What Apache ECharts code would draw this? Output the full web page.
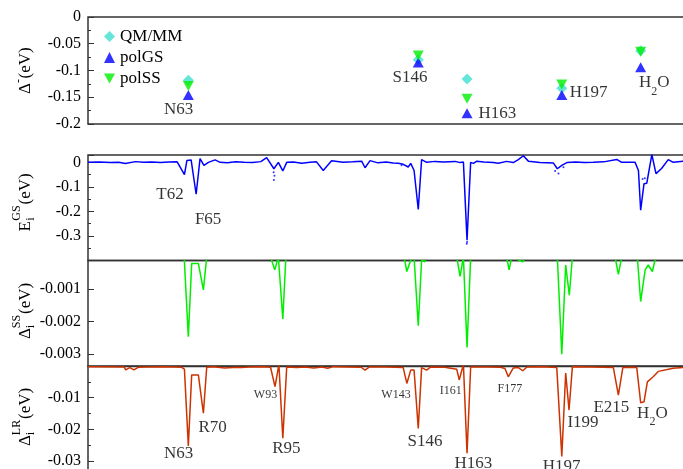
<!DOCTYPE html>
<html><head><meta charset="utf-8">
<script src="https://cdn.jsdelivr.net/npm/echarts@6/dist/echarts.min.js"></script>
<style>html,body{margin:0;padding:0;background:#fff}#c{width:683px;height:469px}</style>
</head><body><div id="c"></div>
<script>
const FONT = '"Liberation Serif","Times New Roman",serif';

// ---- Panel 1: energy shifts per site ----
const sites = ['N63', 'S146', 'H163', 'H197', 'H2O'];
const siteX = [63, 145.5, 163, 197, 225.3];
const qmmm  = [-0.118, -0.080, -0.116, -0.133, -0.063];
const polGS = [-0.146, -0.085, -0.180, -0.146, -0.094];
const polSS = [-0.129, -0.072, -0.153, -0.126, -0.065];
const yTicks1 = [0, -0.05, -0.1, -0.15, -0.2];

// ---- Panel 2: E_i^GS (residue index, eV) ----
const gsLine = [[27,0],[31,0.001],[35,-0.001],[38,0],[40.4,-0.005],[44,0.003],[47,0],[50,0.001],[53,-0.001],[56,0.001],[59,0.002],[61.6,-0.05],[62.5,0.008],[64,0.01],[65.8,-0.13],[67.2,0.015],[68.6,-0.012],[70.2,0],[72.6,0.01],[74.4,0],[77,-0.002],[80,0.002],[83,0],[86,-0.001],[89,0.003],[91.1,0.019],[93.7,-0.026],[95.3,0],[96.9,-0.035],[98.3,0],[100.7,0.001],[103.7,-0.004],[106.7,0],[109,0.002],[111.4,-0.033],[114.4,0.007],[118.5,0],[122,0.002],[125.2,0.005],[126.4,-0.022],[128.2,0.007],[131,-0.002],[134,0.001],[136.5,-0.003],[138.3,-0.004],[140.1,-0.008],[141.9,-0.019],[142.8,-0.004],[144,-0.033],[145.5,-0.192],[146.7,0.011],[148.5,0],[151.5,0.004],[154.5,0.001],[158.7,0.004],[160.5,-0.001],[161.7,0.001],[163,-0.317],[164.3,0],[165.3,-0.004],[166.5,0.005],[169,0.001],[172.4,-0.001],[174.2,-0.004],[177.2,0.004],[179.6,-0.001],[181.4,0.011],[183.2,0.027],[185,0.005],[189.2,-0.001],[194,-0.003],[195.4,-0.026],[197,-0.012],[198.8,-0.001],[202,0.001],[205,-0.001],[208.3,0],[212,0.002],[216.7,0.012],[218.5,0],[223.3,0],[224.5,-0.033],[225.3,-0.195],[226.5,-0.087],[227.5,-0.085],[229.3,0.032],[230.8,-0.046],[232.8,-0.025],[235.2,0.011],[237,0],[240.5,0.005],[243,0.002]];
const gsDots = [[93.6,-0.04],[93.9,-0.055],[93.7,-0.072],[163,-0.325],[162.9,-0.332],[194.6,-0.035],[195.8,-0.045],[197.6,-0.02],[139.5,-0.012],[226,-0.068],[226.8,-0.065]];

// ---- Panel 3: Delta_i^SS ----
const ssLine = [[27,0],[61.5,0],[63,-0.00247],[64.2,-0.0002],[66.6,-0.0002],[68.4,-0.00102],[69.6,0],[92.5,0],[94,-0.0004],[95.3,0],[96.9,-0.00192],[98,0],[140.4,0],[141.4,-0.00045],[142.8,-0.0001],[144,0],[145.5,-0.00213],[146.7,-0.0001],[147.9,-0.00015],[148.5,0],[159.3,0],[160.5,-0.0006],[161.7,0],[163,-0.0028],[164.3,0],[177.2,0],[178.1,-0.0004],[179,0],[183,-0.00015],[184,0],[195.4,0],[197,-0.00301],[198.4,-0.00025],[199.7,-0.00118],[200.8,0],[216.1,0],[217.3,-0.00054],[218.5,0],[224.1,0],[225.3,-0.00138],[226.9,-0.0004],[228,-0.00025],[229.5,-0.00045],[230.7,0],[243,0]];
const yTicks3 = [-0.003, -0.002, -0.001];
const yMinor3 = [-0.0025, -0.0015, -0.0005];

// ---- Panel 4: Delta_i^LR ----
const lrLine = [[27,-0.0002],[40,-0.0003],[40.5,-0.0012],[42,-0.0005],[43.5,-0.0012],[45,-0.0004],[48,-0.0003],[55,-0.0002],[60.6,-0.0004],[61.6,-0.001],[63,-0.0252],[64.2,-0.0028],[66.6,-0.0028],[68.4,-0.0149],[69.6,-0.0004],[72,-0.0002],[76,-0.0006],[80.4,-0.0004],[82,-0.0005],[85,-0.0003],[90,-0.0002],[92.5,-0.0004],[94.1,-0.0065],[95.5,0.0005],[96.9,-0.0228],[98.3,-0.0003],[102,-0.0005],[105,-0.0003],[108,-0.0006],[111,-0.0003],[113,-0.0007],[115,-0.0002],[120,-0.0003],[125,-0.0004],[126.4,-0.0013],[128,-0.0003],[134,-0.0003],[140.1,-0.0005],[141.4,-0.0055],[142.8,-0.0013],[144,-0.0013],[145.5,-0.0197],[146.7,-0.0005],[148.5,-0.0013],[150,-0.0003],[155,-0.0004],[159.3,-0.001],[160.2,-0.0044],[161.7,0.0005],[163,-0.0275],[164.3,-0.0003],[170,-0.0003],[175,-0.0004],[176.6,-0.0008],[177.8,-0.0034],[179.6,-0.0006],[181.4,-0.0005],[183,-0.0015],[184.5,-0.0003],[190,-0.0002],[195.2,-0.0005],[197,-0.0285],[198.4,-0.0022],[199.6,-0.0139],[200.8,-0.0002],[208,-0.0003],[215.5,-0.0005],[217.3,-0.0092],[218.9,-0.0005],[222,-0.0004],[223.9,-0.0005],[225.3,-0.0116],[226.5,-0.0113],[227.7,-0.005],[229.8,-0.0034],[231.6,-0.0017],[237,-0.0007],[243,-0.0003]];

// ---- Annotations [text, x, y] ----
const ann1 = [['N63',59.5,-0.1738],['S146',142.5,-0.1131],['H163',173.9,-0.1804],['H197',206.6,-0.1411],['H2O',230.2,-0.129]];
const ann2 = [['T62',56.4,-0.130],['F65',70.1,-0.2317]];
const ann4 = [['N63',59.5,-0.02773],['R70',71.7,-0.01937],['W93',90.7,-0.00912],['R95',98.2,-0.026],['W143',137.5,-0.00896],['S146',147.9,-0.02379],['I161',157.2,-0.0077],['H163',165.3,-0.03073],['F177',178.4,-0.00707],['H197',196.9,-0.03167],['I199',204.6,-0.01779],['E215',214.8,-0.01322],['H2O',229.5,-0.01603]];
const smallNames = ['W93','W143','I161','F177'];

const XMIN = 27, XMAX = 243;
const GL = 88, GW = 602;
const grids = [
  {left: GL, width: GW, top: 17, height: 107},
  {left: GL, width: GW, top: 155, height: 105.5},
  {left: GL, width: GW, top: 260.5, height: 106},
  {left: GL, width: GW, top: 366, height: 126.8}
].map(g => Object.assign(g, {show: true, borderColor: '#333', borderWidth: 1.5, backgroundColor: 'transparent', containLabel: false, outerBoundsMode: 'none'}));

const xAxes = [0,1,2,3].map(i => ({type: 'value', gridIndex: i, min: XMIN, max: XMAX, show: false}));

const lab = {color: '#000', fontFamily: FONT, fontSize: 16, margin: 7};
const tick = {show: true, inside: true, length: 6, lineStyle: {color: '#333', width: 1}};
const minor = {show: true, splitNumber: 2, length: 3, lineStyle: {color: '#333', width: 1}};
const yAxes = [
  {type: 'value', gridIndex: 0, min: -0.2, max: 0, interval: 0.05, axisLine: {show: false}, axisTick: tick, minorTick: minor, splitLine: {show: false}, axisLabel: lab},
  {type: 'value', gridIndex: 1, min: -0.4, max: 0.03, interval: 0.1, axisLine: {show: false}, axisTick: tick, minorTick: minor, splitLine: {show: false}, axisLabel: Object.assign({}, lab, {showMinLabel: false, showMaxLabel: false, formatter: v => (v > 0.001 ? '' : (Math.abs(v) < 1e-9 ? '0' : String(+v.toFixed(3))))})},
  {type: 'value', gridIndex: 2, min: -0.00339, max: -0.00011, axisLine: {show: false}, splitLine: {show: false},
    axisTick: Object.assign({}, tick, {customValues: yTicks3}), axisLabel: Object.assign({}, lab, {customValues: yTicks3, formatter: v => v.toFixed(3)})},
  {type: 'value', gridIndex: 3, min: -0.04, max: 0, interval: 0.01, axisLine: {show: false}, axisTick: tick, minorTick: minor, splitLine: {show: false}, axisLabel: Object.assign({}, lab, {showMaxLabel: false, formatter: v => (Math.abs(v) < 1e-9 ? '' : v.toFixed(2))})},
  {type: 'value', gridIndex: 2, min: -0.00339, max: -0.00011, axisLine: {show: false}, splitLine: {show: false},
    axisTick: {show: true, inside: true, length: 3, customValues: yMinor3, lineStyle: {color: '#333', width: 1}}, axisLabel: {show: false}}
];

const rich = {
  a: {fontFamily: FONT, fontSize: 17, color: '#000', verticalAlign: 'top', lineHeight: 23},
  s: {fontFamily: FONT, fontSize: 12, color: '#000', verticalAlign: 'bottom', lineHeight: 23},
  m: {fontFamily: FONT, fontSize: 12, color: '#000'},
  b: {fontFamily: FONT, fontSize: 17, color: '#000'}
};
function annSeries(arr, gi) {
  return {
    type: 'scatter', xAxisIndex: gi, yAxisIndex: gi, symbolSize: 0, silent: true, z: 5,
    data: arr.map(a => ({name: a[0], value: [a[1], a[2]]})),
    label: {show: true, position: 'inside', rich: rich,
      formatter: p => p.name === 'H2O' ? '{a|H}{s|2}{a|O}' : (smallNames.includes(p.name) ? '{m|' + p.name + '}' : '{b|' + p.name + '}')}
  };
}

function title(x, y, parts) {
  return {type: 'group', x: x, y: y, rotation: Math.PI / 2,
    children: parts.map(p => ({type: 'text', x: p[1], y: p[2],
      style: {text: p[0], font: p[3] + 'px ' + FONT, fill: '#000', textAlign: 'left', textVerticalAlign: 'middle'}}))};
}
const TX = 25.5;
const graphics = [
  title(TX, 94, [['\u0394', 0, 0, 17], ['-', 11, -7, 12], ['(eV)', 15.5, 0, 17]]),
  title(TX, 231.5, [['E', 0, 0, 17], ['GS', 10.8, -8.5, 12], ['i', 10.8, 5, 12], ['(eV)', 27, 0, 17]]),
  title(TX, 339, [['\u0394', 0, 0, 17], ['SS', 10.8, -8.5, 12], ['i', 10.8, 5, 12], ['(eV)', 25, 0, 17]]),
  title(TX, 446, [['\u0394', 0, 0, 17], ['LR', 10.8, -8.5, 12], ['i', 10.8, 5, 12], ['(eV)', 27, 0, 17]])
];

const zip = (xs, ys) => xs.map((x, i) => [x, ys[i]]);
const option = {
  animation: false,
  backgroundColor: '#fff',
  grid: grids, xAxis: xAxes, yAxis: yAxes,
  graphic: graphics,
  legend: {
    orient: 'vertical', left: 99, top: 23, itemGap: 4, itemWidth: 11, itemHeight: 11,
    textStyle: {fontFamily: FONT, fontSize: 17, color: '#000'},
    data: [
      {name: 'QM/MM', icon: 'diamond'},
      {name: 'polGS', icon: 'triangle'},
      {name: 'polSS', icon: 'path://M0,0L10,0L5,9Z'}
    ]
  },
  series: [
    {name: 'QM/MM', type: 'scatter', xAxisIndex: 0, yAxisIndex: 0, symbol: 'diamond', symbolSize: [11, 11], itemStyle: {color: '#40e0d0'}, data: zip(siteX, qmmm), z: 2},
    {name: 'polGS', type: 'scatter', xAxisIndex: 0, yAxisIndex: 0, symbol: 'triangle', symbolSize: [11, 10], itemStyle: {color: '#0000ff'}, data: zip(siteX, polGS), z: 3},
    {name: 'polSS', type: 'scatter', xAxisIndex: 0, yAxisIndex: 0, symbol: 'triangle', symbolRotate: 180, symbolSize: [11, 10], itemStyle: {color: '#00ee00'}, data: zip(siteX, polSS), z: 4},
    annSeries(ann1, 0),
    {name: 'GS', type: 'line', xAxisIndex: 1, yAxisIndex: 1, showSymbol: false, data: gsLine, lineStyle: {color: '#0000ff', width: 1.5}, itemStyle: {color: '#0000ff'}},
    {name: 'GSdots', type: 'scatter', xAxisIndex: 1, yAxisIndex: 1, symbolSize: 2, data: gsDots, itemStyle: {color: '#0000ff'}},
    annSeries(ann2, 1),
    {name: 'SS', type: 'line', xAxisIndex: 2, yAxisIndex: 2, showSymbol: false, data: ssLine, lineStyle: {color: '#00ee00', width: 1.5}, itemStyle: {color: '#00ee00'}},
    {name: 'LR', type: 'line', xAxisIndex: 3, yAxisIndex: 3, showSymbol: false, data: lrLine, lineStyle: {color: '#cc3300', width: 1.5}, itemStyle: {color: '#cc3300'}},
    annSeries(ann4, 3)
  ]
};
const chart = echarts.init(document.getElementById('c'), null, {renderer: 'canvas'});
chart.setOption(option);
</script>
</body></html>
